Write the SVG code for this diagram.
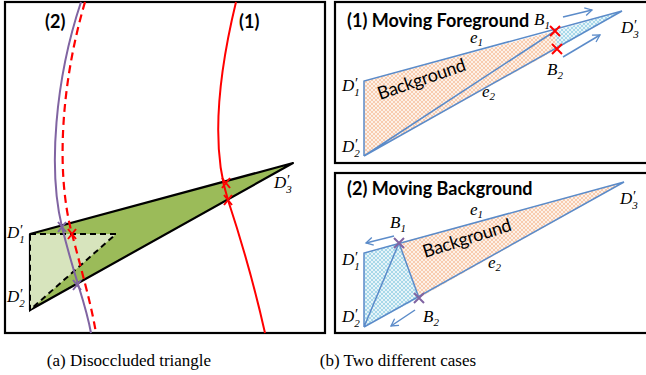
<svg xmlns="http://www.w3.org/2000/svg" width="646" height="375" viewBox="0 0 646 375">
<defs>
<pattern id="hOr" width="4" height="4" patternUnits="userSpaceOnUse"><rect width="4" height="4" fill="#fdf1e8"/><path d="M0,0 L4,4 M4,0 L0,4" stroke="#f6bc97" stroke-width="0.7"/></pattern>
<pattern id="hBl" width="4" height="4" patternUnits="userSpaceOnUse"><rect width="4" height="4" fill="#e6f4f9"/><path d="M0,0 L4,4 M4,0 L0,4" stroke="#8ccbe2" stroke-width="0.7"/></pattern>
<marker id="ah" markerWidth="10" markerHeight="10" refX="8" refY="5" orient="auto" markerUnits="userSpaceOnUse"><path d="M1,1 L8,5 L1,9" fill="none" stroke="#5b8bc9" stroke-width="1.3"/></marker>
</defs>
<style>
.box{fill:none;stroke:#000;stroke-width:2.2}
.bl{fill:none;stroke:#5b8bc9;stroke-width:1.5}
.arr{fill:none;stroke:#5b8bc9;stroke-width:1.5;marker-end:url(#ah)}
.xr{stroke:#ff0000;stroke-width:2;fill:none}
.xp{stroke:#8064a2;stroke-width:2;fill:none}
.m{font-family:"Liberation Serif",serif;font-style:italic;font-size:17px;fill:#000}
.pr{font-size:14px}
.sb{font-size:11px}
.ttl{font-family:Lato,"Open Sans",sans-serif;font-weight:bold;font-size:18px;fill:#000}
.bg{font-family:Lato,"Open Sans",sans-serif;font-size:18px;fill:#000}
.cap{font-family:"Liberation Serif",serif;font-size:17px;fill:#000;text-anchor:middle}
</style>

<g id="panel-a">
<rect class="box" x="5" y="2" width="320" height="331"/>
<polygon points="30,234 293,163 30,310" fill="#9bbb59" stroke="#000" stroke-width="2.2" stroke-linejoin="round"/>
<polygon points="30,234 116,234 30,310" fill="#d7e4bd" stroke="#000" stroke-width="2" stroke-dasharray="6,4"/>
<path d="M236,2 Q205,130 228,200 T265,333" fill="none" stroke="#ff0000" stroke-width="2"/>
<path d="M85,2 C62,80 55,170 72,234 S92,310 96,333" fill="none" stroke="#ff0000" stroke-width="2.2" stroke-dasharray="8,5"/>
<path d="M81,2 C55,80 48,170 62,227 S85,300 91,333" fill="none" stroke="#8064a2" stroke-width="2"/>
<path class="xr" d="M222,178 L230,188 M230,178 L222,188 M224,195 L232,205 M232,195 L224,205 M68,229 L76,239 M76,229 L68,239"/>
<path class="xp" d="M58,222 L66,232 M66,222 L58,232 M73,280 L81,290 M81,280 L73,290"/>
<text x="45" y="28" font-family="Lato,'Open Sans',sans-serif" font-weight="bold" font-size="18">(2)</text>
<text x="239" y="28" font-family="Lato,'Open Sans',sans-serif" font-weight="bold" font-size="18">(1)</text>
<text class="m" x="7" y="238">D<tspan class="pr" dy="-3">′</tspan><tspan class="sb" dx="-3" dy="8">1</tspan></text>
<text class="m" x="7" y="302">D<tspan class="pr" dy="-3">′</tspan><tspan class="sb" dx="-3" dy="8">2</tspan></text>
<text class="m" x="274" y="188">D<tspan class="pr" dy="-3">′</tspan><tspan class="sb" dx="-3" dy="8">3</tspan></text>
</g>

<g id="panel-b1">
<rect class="box" x="335" y="2" width="320" height="161"/>
<polygon points="364,81 555,31 557,49 364,156" fill="url(#hOr)"/>
<polygon points="555,31 622,11 557,49" fill="url(#hBl)"/>
<g id="edges-b1">
<path class="bl" d="M364,156 L364,81 L622,11 L364,156 M364,156 L555,31"/>
<path class="arr" d="M563,17 L592,10"/>
<path class="arr" d="M563,57 L600,35"/>
</g>
<path class="xr" d="M550,26 L560,36 M560,26 L550,36 M552,44 L562,54 M562,44 L552,54"/>
<text class="ttl" x="347" y="27">(1) Moving Foreground</text>
<text class="bg" x="0" y="0" transform="translate(380,100) rotate(-19)" textLength="92">Background</text>
<text class="m" x="342" y="91">D<tspan class="pr" dy="-3">′</tspan><tspan class="sb" dx="-3" dy="8">1</tspan></text>
<text class="m" x="342" y="152">D<tspan class="pr" dy="-3">′</tspan><tspan class="sb" dx="-3" dy="8">2</tspan></text>
<text class="m" x="621" y="33">D<tspan class="pr" dy="-3">′</tspan><tspan class="sb" dx="-3" dy="8">3</tspan></text>
<text class="m" x="534" y="25">B<tspan class="sb" dy="4">1</tspan></text>
<text class="m" x="547" y="75">B<tspan class="sb" dy="4">2</tspan></text>
<text class="m" x="470" y="43">e<tspan class="sb" dy="3">1</tspan></text>
<text class="m" x="482" y="97">e<tspan class="sb" dy="3">2</tspan></text>
</g>

<g id="panel-b2">
<rect class="box" x="335" y="173" width="320" height="160"/>
<polygon points="399,243 624,182 419,298" fill="url(#hOr)"/>
<polygon points="364,253 399,243 419,298 364,327" fill="url(#hBl)"/>
<g id="edges-b2">
<path class="bl" d="M364,327 L364,253 L624,182 L364,327 M364,327 L399,243 L419,298"/>
<path class="arr" d="M394,236 L366,243"/>
<path class="arr" d="M415,310 L391,326"/>
</g>
<path class="xp" d="M394,238 L404,248 M404,238 L394,248 M414,293 L424,303 M424,293 L414,303"/>
<text class="ttl" x="347" y="195">(2) Moving Background</text>
<text class="bg" x="0" y="0" transform="translate(425,258) rotate(-17.6)" textLength="92">Background</text>
<text class="m" x="342" y="265">D<tspan class="pr" dy="-3">′</tspan><tspan class="sb" dx="-3" dy="8">1</tspan></text>
<text class="m" x="342" y="322">D<tspan class="pr" dy="-3">′</tspan><tspan class="sb" dx="-3" dy="8">2</tspan></text>
<text class="m" x="620" y="204">D<tspan class="pr" dy="-3">′</tspan><tspan class="sb" dx="-3" dy="8">3</tspan></text>
<text class="m" x="390" y="228">B<tspan class="sb" dy="4">1</tspan></text>
<text class="m" x="423" y="322">B<tspan class="sb" dy="4">2</tspan></text>
<text class="m" x="470" y="215">e<tspan class="sb" dy="3">1</tspan></text>
<text class="m" x="488" y="268">e<tspan class="sb" dy="3">2</tspan></text>
</g>

<text class="cap" x="129" y="366">(a) Disoccluded triangle</text>
<text class="cap" x="398" y="366">(b) Two different cases</text>
</svg>
